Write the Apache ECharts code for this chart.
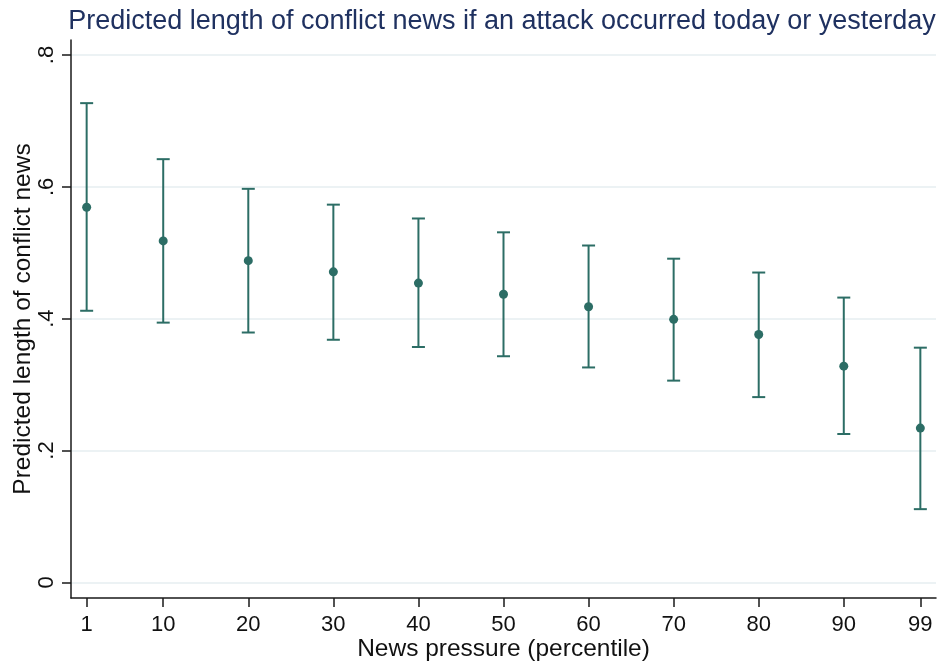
<!DOCTYPE html>
<html>
<head>
<meta charset="utf-8">
<style>
  html, body { margin: 0; padding: 0; background: #ffffff; }
  #chart { width: 945px; height: 664px; }
</style>
<script src="https://cdn.jsdelivr.net/npm/echarts@6/dist/echarts.min.js"></script>
</head>
<body>
<div id="chart"></div>
<script>
// News pressure percentiles on the x axis
const percentiles = [1, 10, 20, 30, 40, 50, 60, 70, 80, 90, 99];
// Predicted length of conflict news with 95% confidence bounds
const predicted = [0.569, 0.518, 0.488, 0.471, 0.454, 0.437, 0.418, 0.399, 0.376, 0.328, 0.234];
const lowerCI   = [0.412, 0.394, 0.379, 0.368, 0.357, 0.343, 0.326, 0.306, 0.281, 0.225, 0.111];
const upperCI   = [0.727, 0.642, 0.597, 0.573, 0.552, 0.531, 0.511, 0.491, 0.470, 0.432, 0.356];
// Tick labels
const yTicks = [0, 0.2, 0.4, 0.6, 0.8];
const yTickLabels = ['0', '.2', '.4', '.6', '.8'];

const FONT = 'Liberation Sans, Arial, Helvetica, sans-serif';
const MARK = '#2c6d65';

const chart = echarts.init(document.getElementById('chart'), null, { renderer: 'canvas' });

const points = percentiles.map((p, i) => [p, predicted[i]]);
const ranges = percentiles.map((p, i) => [p, lowerCI[i], upperCI[i]]);

chart.setOption({
  backgroundColor: '#ffffff',
  animation: false,
  title: {
    text: 'Predicted length of conflict news if an attack occurred today or yesterday',
    left: 497, top: 3, textAlign: 'center',
    textStyle: { fontFamily: FONT, fontSize: 27, fontWeight: 'normal', color: '#1f3160' }
  },
  grid: { left: 71, right: 9, top: 40, bottom: 66, containLabel: false, outerBoundsMode: 'none' },
  xAxis: {
    type: 'value',
    min: -0.84, max: 100.84,
    name: 'News pressure (percentile)',
    nameLocation: 'middle', nameGap: 39, nameMoveOverlap: false,
    nameTextStyle: { fontFamily: FONT, fontSize: 24.5, color: '#111' },
    axisLine: { show: true, onZero: false, lineStyle: { color: '#1a1a1a', width: 1.5 } },
    axisTick: { show: true, length: 9, customValues: percentiles, lineStyle: { color: '#1a1a1a', width: 1.5 } },
    axisLabel: { customValues: percentiles, margin: 16, fontFamily: FONT, fontSize: 22, color: '#111' },
    splitLine: { show: false }
  },
  yAxis: {
    type: 'value',
    min: -0.0238, max: 0.8228,
    name: 'Predicted length of conflict news',
    nameLocation: 'middle', nameRotate: 90, nameGap: 35, nameMoveOverlap: false,
    nameTextStyle: { fontFamily: FONT, fontSize: 24.5, color: '#111' },
    axisLine: { show: true, onZero: false, lineStyle: { color: '#1a1a1a', width: 1.5 } },
    axisTick: { show: true, length: 9, customValues: yTicks, lineStyle: { color: '#1a1a1a', width: 1.5 } },
    axisLabel: {
      customValues: yTicks, rotate: 90, margin: 13,
      fontFamily: FONT, fontSize: 22, color: '#111',
      formatter: v => yTickLabels[yTicks.findIndex(t => Math.abs(t - v) < 1e-9)]
    },
    splitLine: { show: true, lineStyle: { color: '#e6eef1', width: 1.5 } }
  },
  series: [
    {
      type: 'custom',
      data: ranges,
      encode: { x: 0, y: [1, 2] },
      z: 2,
      renderItem: function (params, api) {
        const x = api.value(0);
        const lo = api.coord([x, api.value(1)]);
        const hi = api.coord([x, api.value(2)]);
        const half = 6.5;
        const style = { stroke: MARK, lineWidth: 2 };
        return {
          type: 'group',
          children: [
            { type: 'line', shape: { x1: lo[0], y1: lo[1], x2: hi[0], y2: hi[1] }, style },
            { type: 'line', shape: { x1: hi[0] - half, y1: hi[1], x2: hi[0] + half, y2: hi[1] }, style },
            { type: 'line', shape: { x1: lo[0] - half, y1: lo[1], x2: lo[0] + half, y2: lo[1] }, style }
          ]
        };
      }
    },
    {
      type: 'scatter',
      data: points,
      symbol: 'circle',
      symbolSize: 9,
      z: 3,
      itemStyle: { color: MARK, opacity: 1 }
    }
  ]
});
</script>
</body>
</html>
